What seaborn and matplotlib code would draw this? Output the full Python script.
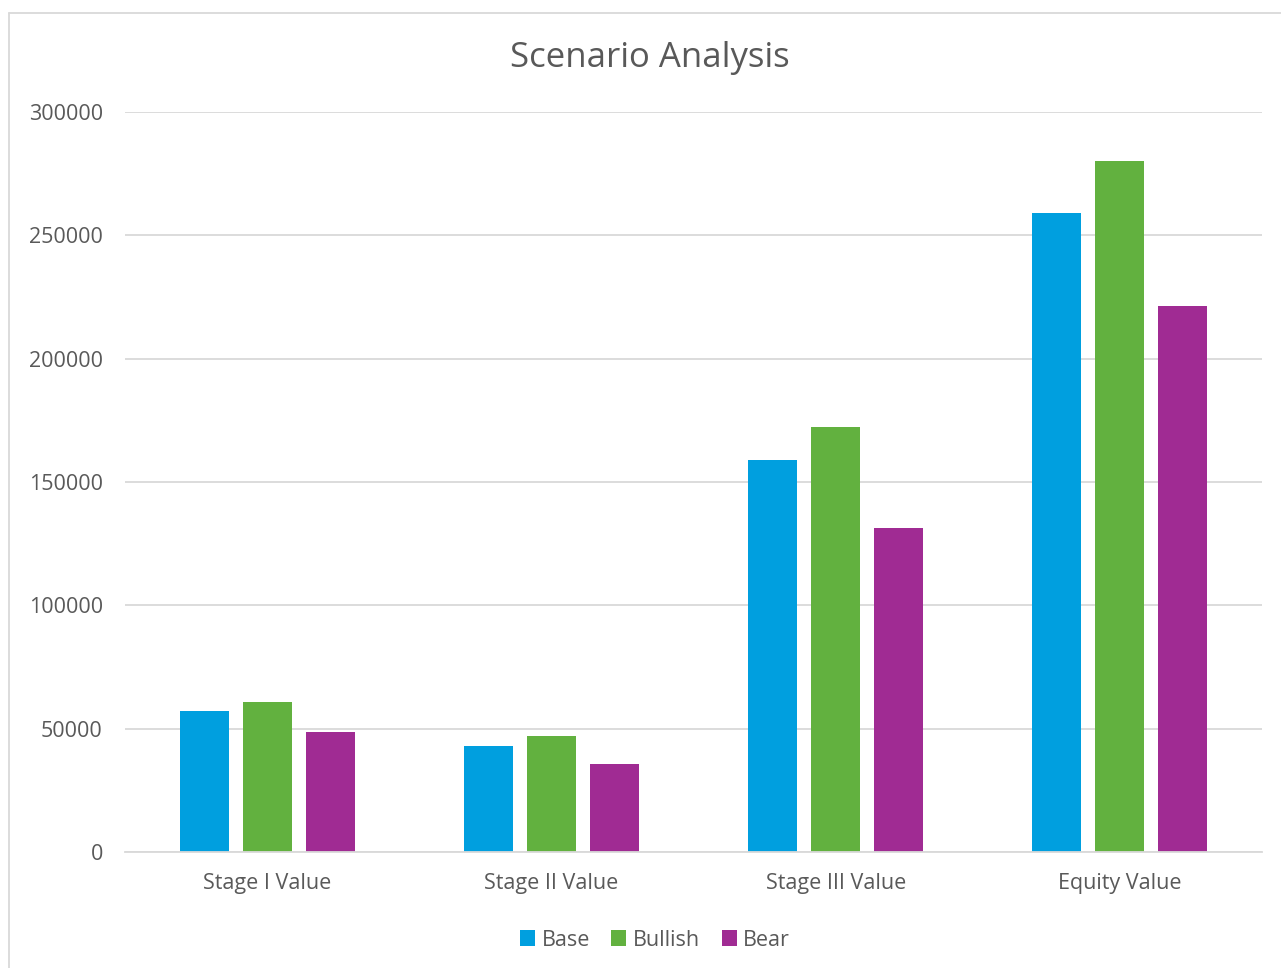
import matplotlib
matplotlib.use("Agg")
import matplotlib.pyplot as plt
import seaborn as sns
import pandas as pd
from matplotlib.patches import Patch
from matplotlib.lines import Line2D

categories = ["Stage I Value", "Stage II Value", "Stage III Value", "Equity Value"]
scenarios = ["Base", "Bullish", "Bear"]
base_values = [57000, 43100, 159100, 259200]
bullish_values = [61000, 46900, 172500, 280100]
bear_values = [48800, 35800, 131500, 221200]
y_ticks = [0, 50000, 100000, 150000, 200000, 250000, 300000]
colors = ["#009FDF", "#62B13F", "#A02B93"]

rows = []
for s, vals in zip(scenarios, [base_values, bullish_values, bear_values]):
    for c, v in zip(categories, vals):
        rows.append({"Category": c, "Scenario": s, "Value": v})
df = pd.DataFrame(rows)

sns.set_style("white")
plt.rcParams["font.family"] = ["Open Sans", "DejaVu Sans"]
text_color = "#595959"

fig = plt.figure(figsize=(12.81, 9.68), dpi=100)
ax = fig.add_axes([125/1281, 1-852/968, (1262-125)/1281, (852-112)/968])

sns.barplot(data=df, x="Category", y="Value", hue="Scenario", order=categories,
            hue_order=scenarios, palette=colors, width=0.665, gap=0.222,
            saturation=1, ax=ax, legend=False, edgecolor="none", zorder=3)

ax.set_xlim(-0.5, 3.5)
ax.set_ylim(0, 300000)
ax.set_yticks(y_ticks)
ax.set_yticklabels([str(t) for t in y_ticks])
ax.yaxis.grid(True, color="#D9D9D9", linewidth=1.3, zorder=0)
ax.set_axisbelow(True)
for sp in ["top", "right", "left"]:
    ax.spines[sp].set_visible(False)
ax.spines["bottom"].set_color("#D9D9D9")
ax.spines["bottom"].set_linewidth(1.3)
ax.spines["bottom"].set_zorder(4)
ax.tick_params(axis="both", length=0, labelsize=15.5, colors=text_color)
ax.tick_params(axis="y", pad=16)
ax.tick_params(axis="x", pad=15)
ax.set_xlabel("")
ax.set_ylabel("")

fig.text(650/1281, 1-58/968, "Scenario Analysis", ha="center", va="center",
         fontsize=25, color=text_color)

handles = [Patch(facecolor=c, edgecolor="none") for c in colors]
leg = fig.legend(handles, scenarios, loc="center", bbox_to_anchor=(655/1281, 1-940/968),
                 ncol=3, frameon=False, fontsize=15.5, handlelength=0.7, handleheight=0.7,
                 handletextpad=0.3, columnspacing=1.0)
for t in leg.get_texts():
    t.set_color(text_color)

# outer chart border (partially cropped)
fig.add_artist(Line2D([9/1281, 9/1281], [0, 1-13/968], color="#D9D9D9", linewidth=1.3,
                      transform=fig.transFigure))
fig.add_artist(Line2D([9/1281, 1], [1-13/968, 1-13/968], color="#D9D9D9", linewidth=1.3,
                      transform=fig.transFigure))

fig.savefig("out.png", dpi=100, facecolor="white")
